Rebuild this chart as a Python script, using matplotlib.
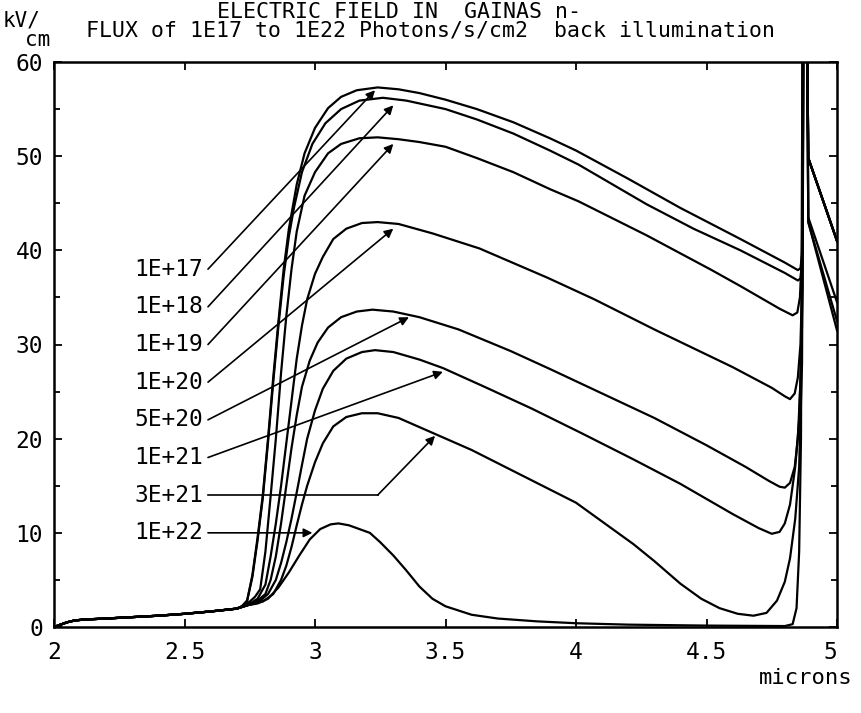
import matplotlib
matplotlib.use('Agg')
import matplotlib.pyplot as plt

plt.rcParams['font.family'] = ['DejaVu Sans Mono', 'DejaVu Sans']
plt.rcParams['font.size'] = 16

W, H = 861, 713

# common low-field part before the rise (all fluxes)
BASE_X = [2.00, 2.02, 2.05, 2.08, 2.12, 2.20, 2.30, 2.40, 2.50, 2.60, 2.70]
BASE_Y = [0.00, 0.20, 0.50, 0.70, 0.80, 0.90, 1.05, 1.20, 1.40, 1.65, 1.95]

FLUX_LABELS = ['1E+17', '1E+18', '1E+19', '1E+20', '5E+20', '1E+21', '3E+21', '1E+22']

X_1E17 = [2.72, 2.74, 2.76, 2.78, 2.80, 2.82, 2.84, 2.86, 2.88, 2.90, 2.93, 2.96, 3.00, 3.05,
          3.10, 3.16, 3.24, 3.32, 3.40, 3.50, 3.62, 3.76, 3.90, 4.00, 4.20, 4.40, 4.63, 4.80,
          4.850, 4.860, 4.866, 4.870, 4.885, 4.890, 5.00]
Y_1E17 = [2.2, 2.8, 5.5, 9.5, 14.0, 20.0, 26.5, 32.5, 38.0, 42.3, 47.0, 50.3, 53.0, 55.1,
          56.3, 57.0, 57.3, 57.1, 56.7, 56.0, 55.0, 53.6, 51.9, 50.6, 47.6, 44.5, 41.2, 38.7,
          37.9, 38.1, 39.5, 65, 65, 43.0, 31.5]

X_1E18 = [2.72, 2.74, 2.76, 2.78, 2.80, 2.82, 2.84, 2.86, 2.88, 2.90, 2.92, 2.95, 2.99, 3.04,
          3.10, 3.17, 3.26, 3.35, 3.50, 3.62, 3.76, 3.90, 4.01, 4.27, 4.45, 4.63, 4.80,
          4.850, 4.860, 4.866, 4.870, 4.885, 4.890, 5.00]
Y_1E18 = [2.2, 2.8, 5.3, 9.2, 13.7, 19.6, 26.0, 32.0, 37.3, 41.5, 44.6, 48.3, 51.3, 53.5,
          55.0, 55.9, 56.2, 55.9, 55.0, 53.9, 52.4, 50.6, 49.1, 44.9, 42.3, 40.0, 37.6,
          36.8, 37.0, 38.5, 65, 65, 43.0, 32.5]

X_1E19 = [2.72, 2.75, 2.77, 2.79, 2.81, 2.83, 2.85, 2.87, 2.89, 2.91, 2.93, 2.96, 3.00, 3.05,
          3.10, 3.17, 3.24, 3.32, 3.40, 3.50, 3.62, 3.76, 3.90, 4.01, 4.27, 4.52, 4.63, 4.78,
          4.830, 4.848, 4.858, 4.866, 4.870, 4.885, 4.890, 5.00]
Y_1E19 = [2.2, 2.7, 3.2, 4.0, 8.0, 13.9, 20.0, 27.0, 33.0, 38.0, 42.0, 45.8, 48.3, 50.3,
          51.3, 51.9, 52.0, 51.8, 51.5, 51.0, 49.8, 48.3, 46.5, 45.2, 41.6, 37.9, 36.2, 33.8,
          33.1, 33.4, 35.0, 40.0, 65, 65, 43.5, 34.5]

X_1E20 = [2.74, 2.78, 2.81, 2.83, 2.85, 2.87, 2.89, 2.91, 2.93, 2.95, 2.97, 3.00, 3.03, 3.07,
          3.12, 3.18, 3.24, 3.32, 3.45, 3.63, 3.89, 4.07, 4.30, 4.60, 4.75, 4.80, 4.820,
          4.838, 4.850, 4.860, 4.866, 4.870, 4.885, 4.890, 5.00]
Y_1E20 = [2.3, 3.0, 4.5, 7.5, 11.0, 15.0, 19.5, 24.0, 28.5, 32.0, 34.8, 37.5, 39.3, 41.2,
          42.3, 42.9, 43.0, 42.8, 41.8, 40.2, 37.1, 34.8, 31.6, 27.6, 25.4, 24.5, 24.2,
          24.8, 26.5, 30.0, 36.0, 65, 65, 49.8, 41.0]

X_5E20 = [2.74, 2.78, 2.81, 2.83, 2.85, 2.87, 2.89, 2.91, 2.93, 2.95, 2.98, 3.01, 3.05, 3.10,
          3.16, 3.22, 3.30, 3.40, 3.55, 3.75, 3.90, 4.10, 4.30, 4.50, 4.65, 4.74, 4.78, 4.800,
          4.820, 4.838, 4.850, 4.860, 4.868, 4.872, 4.885, 4.890, 5.00]
Y_5E20 = [2.3, 2.8, 3.5, 5.0, 7.5, 11.0, 15.0, 19.0, 22.5, 25.5, 28.3, 30.2, 31.8, 32.9,
          33.5, 33.7, 33.5, 32.9, 31.6, 29.3, 27.4, 24.8, 22.2, 19.3, 17.0, 15.5, 14.9, 14.8,
          15.3, 17.0, 20.0, 26.0, 36.0, 65, 65, 49.8, 41.0]

X_1E21 = [2.74, 2.79, 2.82, 2.85, 2.87, 2.89, 2.91, 2.93, 2.95, 2.97, 3.00, 3.03, 3.07, 3.12,
          3.18, 3.23, 3.30, 3.40, 3.49, 3.65, 3.83, 4.02, 4.22, 4.40, 4.60, 4.70, 4.75, 4.780,
          4.800, 4.820, 4.840, 4.855, 4.866, 4.872, 4.885, 4.890, 5.00]
Y_1E21 = [2.3, 2.8, 3.5, 5.0, 6.8, 9.0, 11.5, 14.3, 17.2, 20.0, 23.0, 25.3, 27.2, 28.5,
          29.2, 29.4, 29.2, 28.4, 27.5, 25.5, 23.2, 20.6, 17.8, 15.2, 12.0, 10.5, 9.9, 10.1,
          11.0, 13.0, 17.0, 22.0, 32.0, 65, 65, 49.8, 41.0]

X_3E21 = [2.74, 2.80, 2.84, 2.87, 2.89, 2.91, 2.93, 2.95, 2.97, 3.00, 3.03, 3.07, 3.12, 3.18,
          3.24, 3.32, 3.46, 3.60, 3.80, 4.00, 4.22, 4.30, 4.40, 4.48, 4.55, 4.62, 4.68, 4.73,
          4.77, 4.80, 4.82, 4.84, 4.855, 4.866, 4.872, 4.885, 4.890, 5.00]
Y_3E21 = [2.3, 2.7, 3.5, 5.0, 6.5, 8.5, 10.8, 13.0, 15.0, 17.5, 19.5, 21.3, 22.3, 22.7,
          22.7, 22.2, 20.5, 18.8, 16.0, 13.2, 8.8, 7.0, 4.6, 3.0, 2.0, 1.4, 1.2, 1.5,
          2.8, 4.8, 7.3, 11.5, 17.0, 28.0, 65, 65, 49.8, 41.0]

X_1E22 = [2.74, 2.78, 2.82, 2.86, 2.90, 2.94, 2.98, 3.02, 3.06, 3.09, 3.13, 3.17, 3.21, 3.25,
          3.30, 3.35, 3.40, 3.45, 3.50, 3.60, 3.70, 3.85, 4.00, 4.20, 4.50, 4.80, 4.830,
          4.845, 4.855, 4.862, 4.868, 4.885, 4.890, 5.00]
Y_1E22 = [2.3, 2.5, 3.0, 4.2, 5.8, 7.6, 9.3, 10.4, 10.9, 11.0, 10.8, 10.4, 10.0, 9.0,
          7.6, 6.0, 4.3, 3.0, 2.2, 1.3, 0.9, 0.6, 0.4, 0.25, 0.15, 0.1, 0.3,
          2.0, 8.0, 20.0, 65, 65, 49.8, 41.0]

CURVES_X = [X_1E17, X_1E18, X_1E19, X_1E20, X_5E20, X_1E21, X_3E21, X_1E22]
CURVES_Y = [Y_1E17, Y_1E18, Y_1E19, Y_1E20, Y_5E20, Y_1E21, Y_3E21, Y_1E22]

# where each label sits (y) and where its arrow points on the curve
LABEL_Y = [38.0, 34.0, 30.0, 26.0, 22.0, 18.0, 14.0, 10.0]
ARROW_X = [3.23, 3.30, 3.30, 3.30, 3.36, 3.49, 3.46, 2.99]
ARROW_Y = [57.0, 55.4, 51.3, 42.3, 32.9, 27.1, 20.3, 10.0]
BEND_X = 3.24   # 3E+21 leader goes flat first, then up

X_TICKS = [2, 2.5, 3, 3.5, 4, 4.5, 5]
X_TICK_LABELS = ['2', '2.5', '3', '3.5', '4', '4.5', '5']
Y_TICKS = [0, 10, 20, 30, 40, 50, 60]

fig = plt.figure(figsize=(W / 100, H / 100), dpi=100)
ax = fig.add_axes([54 / W, 1 - 627 / H, (837 - 54) / W, (627 - 62) / H])

for i in range(len(CURVES_X)):
    ax.plot(BASE_X + CURVES_X[i], BASE_Y + CURVES_Y[i], color='black', lw=1.6,
            solid_joinstyle='round')

# labels + leader lines
lx_text = 2.57
lx_line = 2.59
for i, lab in enumerate(FLUX_LABELS):
    ax.text(lx_text, LABEL_Y[i], lab, ha='right', va='center', fontsize=16.5)
    if lab == '3E+21':
        ax.plot([lx_line, BEND_X], [LABEL_Y[i], LABEL_Y[i]], color='black', lw=1.2)
        start = (BEND_X, LABEL_Y[i])
    else:
        start = (lx_line, LABEL_Y[i])
    ax.annotate('', xy=(ARROW_X[i], ARROW_Y[i]), xytext=start,
                arrowprops=dict(arrowstyle='-|>', color='black', lw=1.2,
                                mutation_scale=13, shrinkA=0, shrinkB=0))

ax.set_xlim(2, 5)
ax.set_ylim(0, 60)
ax.set_xticks(X_TICKS)
ax.set_xticklabels(X_TICK_LABELS)
ax.set_yticks(Y_TICKS)
ax.set_yticks([5, 15, 25, 35, 45, 55], minor=True)
ax.tick_params(which='both', direction='in', top=True, right=True, width=1.3)
ax.tick_params(which='major', length=6, pad=8, labelsize=16.5)
ax.tick_params(which='minor', length=4)
ax.tick_params(axis='x', pad=10)
ax.get_xticklabels()[-1].set_horizontalalignment('right')
for s in ax.spines.values():
    s.set_linewidth(1.8)

# title lines (plotter style, two rows)
fig.text(399 / W, 1 - 12 / H, 'ELECTRIC FIELD IN  GAINAS n-', ha='center', va='center',
         fontsize=15.5)
fig.text(86 / W, 1 - 31 / H, 'FLUX of 1E17 to 1E22 Photons/s/cm2  back illumination',
         ha='left', va='center', fontsize=15.5)
fig.text(3 / W, 1 - 21 / H, 'kV/', ha='left', va='center', fontsize=15)
fig.text(25 / W, 1 - 40 / H, 'cm', ha='left', va='center', fontsize=15)
fig.text(852 / W, 1 - 678 / H, 'microns', ha='right', va='center', fontsize=16)

fig.savefig('out.png', dpi=100, facecolor='white')
